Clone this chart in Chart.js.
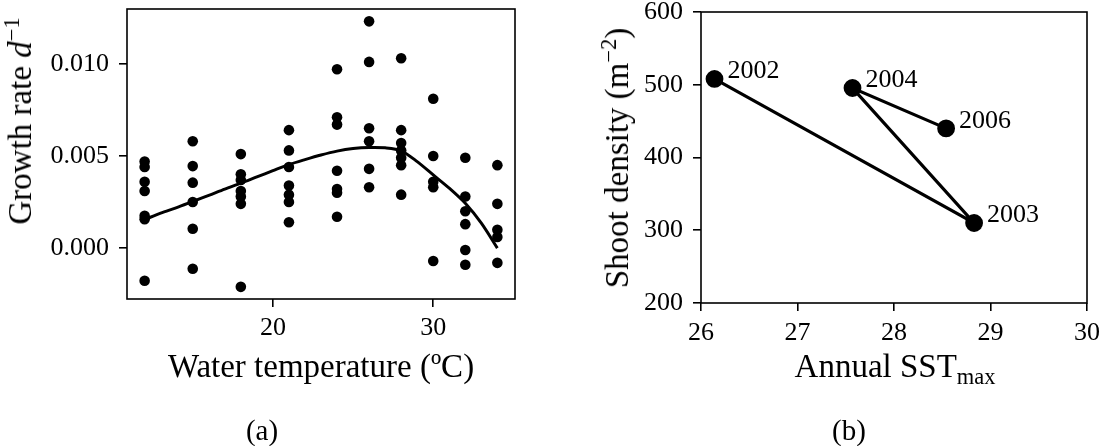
<!DOCTYPE html>
<html>
<head>
<meta charset="utf-8">
<script src="https://cdn.jsdelivr.net/npm/chart.js@4.4.1/dist/chart.umd.min.js"></script>
<style>
  html, body { margin: 0; padding: 0; background: #fff; }
  #wrap { position: relative; width: 1107px; height: 446px; overflow: hidden; background: #fff;
          font-family: 'Liberation Serif', 'DejaVu Serif', serif; color: #000; }
  .cv { position: absolute; top: -20px; }
  .t { position: absolute; white-space: nowrap; font-size: 33px; line-height: 40px; }
  .rot { transform: translate(-50%, -50%) rotate(-90deg); }
  .hc { transform: translate(-50%, -50%); }
  .sup { font-size: 0.68em; position: relative; top: -0.55em; }
  .sub { font-size: 0.68em; position: relative; top: 0.3em; }
  .cap { font-size: 29px; }
</style>
</head>
<body>
<div id="wrap">
  <div class="cv" style="left:0px; width:560px; height:466px;"><canvas id="chartA" width="560" height="466"></canvas></div>
  <div class="cv" style="left:560px; width:547px; height:466px;"><canvas id="chartB" width="547" height="466"></canvas></div>

  <div class="t rot" style="left:22px; top:121px;">Growth rate <i>d</i><span class="sup">−1</span></div>
  <div class="t hc" style="left:321px; top:366px;">Water temperature (ºC)</div>
  <div class="t hc cap" style="left:262px; top:430px;">(a)</div>

  <div class="t rot" style="left:619px; top:158px;">Shoot density (m<span class="sup">−2</span>)</div>
  <div class="t hc" style="left:895px; top:368px;">Annual SST<span class="sub">max</span></div>
  <div class="t hc cap" style="left:849px; top:430px;">(b)</div>
</div>
<script>
// ---------- Panel (a): growth rate vs water temperature ----------
const growthT12 = [0.0047, 0.0044, 0.0036, 0.0031, 0.00175, 0.00157, -0.00177];
const growthT15 = [0.0058, 0.00445, 0.00355, 0.0025, 0.00105, -0.00112];
const growthT18 = [0.0051, 0.0040, 0.0037, 0.0031, 0.0028, 0.0024, -0.0021];
const growthT21 = [0.0064, 0.0053, 0.0044, 0.0034, 0.0029, 0.0025, 0.0014];
const growthT24 = [0.0097, 0.0071, 0.0067, 0.0042, 0.0032, 0.0030, 0.0017];
const growthT26 = [0.0123, 0.0101, 0.0065, 0.0058, 0.0043, 0.0033];
const growthT28 = [0.0103, 0.0064, 0.0057, 0.0053, 0.0049, 0.0045, 0.0029];
const growthT30 = [0.0081, 0.0050, 0.0036, 0.0033, -0.0007];
const growthT32 = [0.0049, 0.0028, 0.0020, 0.0013, -0.0001, -0.0009];
const growthT34 = [0.0045, 0.0024, 0.0010, 0.0006, -0.0008];
const tempLevels = [12, 15, 18, 21, 24, 26, 28, 30, 32, 34];
const growthColumns = [growthT12, growthT15, growthT18, growthT21, growthT24,
                       growthT26, growthT28, growthT30, growthT32, growthT34];

const fitTemps  = [12, 13, 14, 15, 16, 17, 18, 19, 20, 21, 22, 23, 24, 25, 26, 27, 28, 29, 30, 31, 32, 33, 34];
const fitGrowth = [0.00155, 0.0019, 0.0022, 0.00253, 0.00286, 0.0032, 0.00352, 0.00386, 0.0042, 0.00453,
                   0.0048, 0.00505, 0.00526, 0.0054, 0.00546, 0.00544, 0.00528, 0.00469, 0.00397, 0.00325,
                   0.00243, 0.00135, 0.0];

const xTicksA = [20, 30];
const yTicksA = [0.000, 0.005, 0.010];

// ---------- Panel (b): shoot density vs annual SST max ----------
const years   = ['2002', '2003', '2004', '2006'];
const sstMax  = [26.14, 28.83, 27.57, 28.54];
const density = [508, 310, 495.5, 440];
const xTicksB = [26, 27, 28, 29, 30];
const yTicksB = [200, 300, 400, 500, 600];

// ---------- helpers ----------
const FONT = "'Liberation Serif', 'DejaVu Serif', serif";
const tickFont = { family: FONT, size: 26 };

const framePlugin = {
  id: 'frame',
  afterDraw(chart) {
    const { ctx, chartArea: a } = chart;
    ctx.save();
    ctx.strokeStyle = '#000';
    ctx.lineWidth = 1.6;
    ctx.strokeRect(a.left, a.top, a.right - a.left, a.bottom - a.top);
    ctx.restore();
  }
};

function axisCommon() {
  return {
    grid: { display: true, drawOnChartArea: false, drawTicks: true, tickLength: 8, color: '#000', lineWidth: 1.6 },
    border: { display: false },
  };
}

const scatterPoints = [];
tempLevels.forEach((t, i) => growthColumns[i].forEach(g => scatterPoints.push({ x: t, y: g })));
const fitPoints = fitTemps.map((t, i) => ({ x: t, y: fitGrowth[i] }));

new Chart(document.getElementById('chartA'), {
  type: 'scatter',
  data: {
    datasets: [
      { data: scatterPoints, pointRadius: 5.3, pointHoverRadius: 5.3, backgroundColor: '#000', borderColor: '#000', borderWidth: 0, order: 2 },
      { data: fitPoints, showLine: true, pointRadius: 0, borderColor: '#000', borderWidth: 3, tension: 0.3, fill: false, order: 1 }
    ]
  },
  options: {
    responsive: false, animation: false, devicePixelRatio: 1,
    layout: { padding: { top: 29, left: 0, right: 45, bottom: 87 } },
    plugins: { legend: { display: false }, tooltip: { enabled: false } },
    scales: {
      x: Object.assign(axisCommon(), {
        type: 'linear', min: 10.9, max: 35.1,
        afterBuildTicks: s => { s.ticks = xTicksA.map(v => ({ value: v })); },
        afterFit: s => { s.height = 60; },
        ticks: { color: '#000', font: tickFont, padding: 6, callback: v => String(v) }
      }),
      y: Object.assign(axisCommon(), {
        type: 'linear', min: -0.00276, max: 0.01297,
        afterBuildTicks: s => { s.ticks = yTicksA.map(v => ({ value: v })); },
        afterFit: s => { s.width = 127; },
        ticks: { color: '#000', font: tickFont, padding: 10, callback: v => Number(v).toFixed(3) }
      })
    }
  },
  plugins: [framePlugin]
});

const labelPlugin = {
  id: 'yearLabels',
  afterDatasetsDraw(chart) {
    const ctx = chart.ctx;
    const meta = chart.getDatasetMeta(0);
    ctx.save();
    ctx.fillStyle = '#000';
    ctx.font = "26px " + FONT;
    ctx.textAlign = 'left';
    ctx.textBaseline = 'middle';
    meta.data.forEach((pt, i) => ctx.fillText(years[i], pt.x + 13, pt.y - 7.5));
    ctx.restore();
  }
};

new Chart(document.getElementById('chartB'), {
  type: 'scatter',
  data: {
    datasets: [
      { data: sstMax.map((x, i) => ({ x: x, y: density[i] })), showLine: true, pointRadius: 7.3, pointHoverRadius: 7.3,
        backgroundColor: '#000', borderColor: '#000', borderWidth: 3.2, tension: 0 }
    ]
  },
  options: {
    responsive: false, animation: false, devicePixelRatio: 1,
    layout: { padding: { top: 32, left: 0, right: 17, bottom: 83 } },
    plugins: { legend: { display: false }, tooltip: { enabled: false } },
    scales: {
      x: Object.assign(axisCommon(), {
        type: 'linear', min: 26, max: 30,
        afterBuildTicks: s => { s.ticks = xTicksB.map(v => ({ value: v })); },
        afterFit: s => { s.height = 60; },
        ticks: { color: '#000', font: tickFont, padding: 7, callback: v => String(v) }
      }),
      y: Object.assign(axisCommon(), {
        type: 'linear', min: 200, max: 600,
        afterBuildTicks: s => { s.ticks = yTicksB.map(v => ({ value: v })); },
        afterFit: s => { s.width = 141; },
        ticks: { color: '#000', font: tickFont, padding: 10, callback: v => String(v) }
      })
    }
  },
  plugins: [framePlugin, labelPlugin]
});
</script>
</body>
</html>
